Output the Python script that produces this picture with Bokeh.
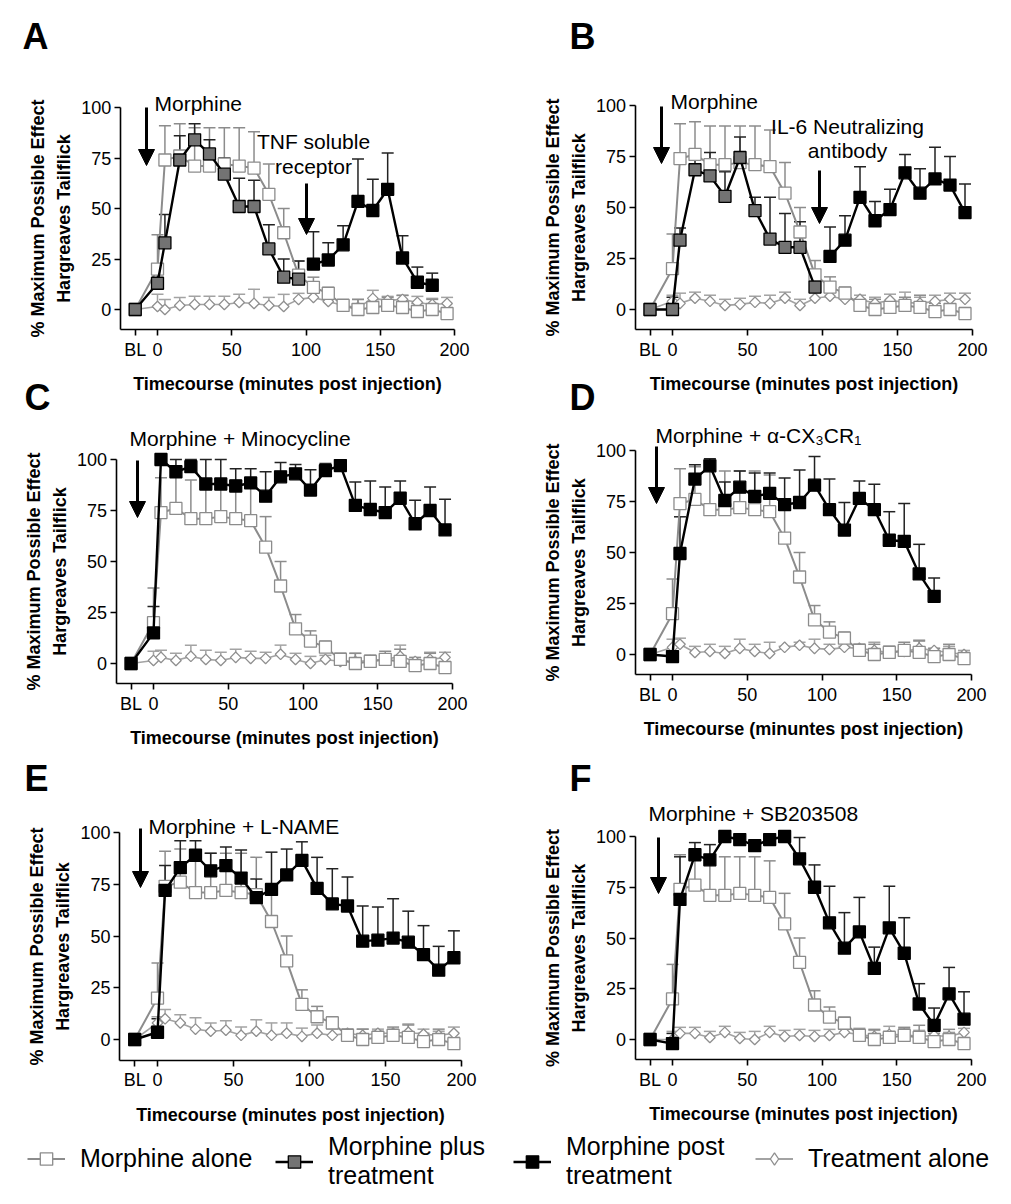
import numpy as np
from bokeh.plotting import figure
from bokeh.models import (ColumnDataSource, Whisker, TeeHead, Label, Arrow, NormalHead,
                          FixedTicker, Range1d, Legend, LegendItem)
from bokeh.layouts import column, row
from bokeh.embed import file_html
from bokeh.resources import INLINE

# ---------------- data ----------------
TIME = [-15, 0, 5, 15, 25, 35, 45, 55, 65, 75, 85, 95, 105, 115, 125, 135, 145, 155, 165, 175, 185, 195]
X_TICKS = [-15, 0, 50, 100, 150, 200]
X_TICK_LABELS = ["BL", "0", "50", "100", "150", "200"]
Y_TICKS = [0, 25, 50, 75, 100]

MORPHINE_ALONE = [0, 20, 74, 76, 71, 71, 72, 71, 70, 57, 38, 17, 11, 8, 2, 0, 1, 2, 1, -1, 0, -2]
MORPHINE_ALONE_SEM = [0, 17, 17, 16, 19, 19, 18, 19, 18, 15, 12, 7, 5, 3, 3, 5, 3, 4, 6, 4, 5, 3]

A_PLUS = [0, 13, 33, 74, 84, 77, 67, 51, 51, 30, 16, 15]
A_PLUS_SEM = [0, 5, 14, 12, 8, 7, 8, 14, 13, 12, 9, 9]
A_POST = [22.5, 24.5, 32, 53.5, 49, 59.5, 25.5, 13.5, 12]
A_POST_SEM = [16, 8.5, 9.5, 21, 15.5, 18, 11, 7.5, 6]
A_TREAT = [0, 1.5, 0, 2, 2.5, 2.5, 2.5, 3.5, 3, 2, 1.5, 5, 6, 4, 2, 1, 5.5, 4.5, 5, 3.5, 2.5, 3]
A_TREAT_SEM = [0, 6, 5, 4, 4, 4, 4, 4, 7, 4, 6, 3, 5, 3, 2, 4, 4, 2, 2, 3, 3, 3]

B_PLUS = [0, 0, 34, 68.5, 65.5, 55.5, 74.5, 48.5, 34.5, 30.5, 30.5, 11]
B_PLUS_SEM = [0, 6, 6, 10, 11.5, 12, 10, 6.5, 20.5, 16.5, 12.5, 6]
B_POST = [26, 34, 55, 43.5, 49, 67, 57, 64, 61, 47.5]
B_POST_SEM = [14.5, 12, 15, 9.5, 10, 9, 12, 15.5, 14, 14]
B_TREAT = [0, 4, 3, 5.5, 4, 2, 2.5, 3.5, 3, 5.5, 2, 5.5, 6.5, 5, 5, 3, 4.5, 3.5, 3, 4, 5, 5]
B_TREAT_SEM = [0, 3, 5, 3, 3, 3, 3, 3, 4, 3, 3, 3, 3, 3, 2, 3, 3, 5, 3, 3, 3, 3]

C_POST = [0, 15, 100, 94, 96.5, 88, 88, 87, 88.5, 82, 91.5, 93, 85, 94.5, 97, 77.5, 75.5, 74, 81, 68.5, 75, 65.5]
C_POST_SEM = [0, 13, 0, 6, 3.5, 12, 12, 8.5, 7, 12, 7, 4.5, 10, 3.5, 1, 11.5, 14, 12.5, 8.5, 11.5, 11.5, 15]
C_TREAT = [0, 1.5, 3, 1.5, 3.5, 2, 1.5, 3, 2.5, 2.5, 4.5, 2, 0, 2, 1, 1, 1.5, 2, 3.5, 1, 2, 3]
C_TREAT_SEM = [0, 4.5, 3.5, 3.5, 5.5, 4.5, 4, 4, 3.5, 3, 4.5, 3, 3.5, 2, 4, 4, 2.5, 2, 5.5, 1, 3.5, 2.5]

D_POST = [0, -1, 49.5, 86, 92.5, 75.5, 82, 77.5, 79, 73.5, 74.5, 83, 71, 61, 76.5, 71, 56, 55.5, 39.5, 28.5]
D_POST_SEM = [0, 0, 18, 7, 3.5, 9, 8, 11.5, 10, 13, 16, 14, 15, 13.5, 8.5, 12.5, 14, 18.5, 14.5, 9]
D_TREAT = [0, 3.5, 5, 1, 1.5, 0.5, 3, 1.5, 0.5, 3.5, 4.5, 3, 2.5, 3.5, 3, 2, 1, 1.5, 3, 2, 1, 0]
D_TREAT_SEM = [0, 4, 3, 3, 3.5, 3.5, 4.5, 3.5, 5.5, 0.5, 1.5, 4.5, 2.5, 0.5, 2, 4, 3, 2.5, 3.5, 1, 3, 2]

E_POST = [0, 3.5, 72, 83, 89, 81.5, 84, 78, 68.5, 72.5, 79.5, 86.5, 73, 65.5, 64.5, 47.5, 48, 49, 47, 41, 33.5, 39.5]
E_POST_SEM = [0, 6.5, 12, 13, 7, 8.5, 9, 13.5, 9, 18, 12.5, 9, 15, 17, 14, 17, 16, 19, 15, 14, 11.5, 13]
E_TREAT = [0, 8, 10, 8, 5, 4, 4.5, 2, 4, 2, 3, 1.5, 3, 2, 3, 2, 3, 3, 3.5, 2.5, 2, 3]
E_TREAT_SEM = [0, 3, 4.5, 4, 5.5, 4, 4.5, 4, 5.5, 6, 5, 4, 4, 3, 2, 3, 2, 2, 4, 2.5, 2, 3]

F_POST = [0, -2, 69, 91, 88.5, 100, 98.5, 95.5, 98.5, 100, 89, 75, 57.5, 45, 53, 35, 55, 42.5, 17.5, 7, 22.5, 10]
F_POST_SEM = [0, 5, 21, 6, 7.5, 0, 1.5, 2.5, 1.5, 0, 10.5, 11, 18, 17.5, 17, 10.5, 20.5, 17.5, 10, 8.5, 13, 13.5]
F_TREAT = [0, 0, 3, 3, 1, 3.5, 0.5, 0, 3.5, 1.5, 2, 1.5, 2, 3.5, 2.5, 1.5, 2.5, 2.5, 1.5, 2, 1.5, 3.5]
F_TREAT_SEM = [0, 4, 3, 3, 3, 3, 3, 4, 3, 3, 3, 3, 3, 3, 3, 3, 4, 3, 3, 2, 2, 2]

Y_LABEL = "% Maximum Possible Effect\nHargreaves Tailflick"
X_LABEL = "Timecourse (minutes post injection)"
X_LABEL_D = "Timecourse (minuntes post injection)"
LEGEND_LABELS = ["Morphine alone", "Morphine plus\ntreatment", "Morphine post\ntreatment", "Treatment alone"]

# ---------------- styles ----------------
FONT = "Liberation Sans"
GRAY_LINE = "#8c8c8c"
GRAY_FILL = "#737373"
TREAT_LINE = "#a3a3a3"
TREAT_MARK = "#8f8f8f"
XMIN, XMAX, YMIN, YMAX = -25, 200, -10, 100
NAN = float("nan")


def add_series(p, x, y, sem, line_color, line_width, marker, size, fill, mline, err_color, angle=0.0):
    src = ColumnDataSource(dict(x=x, y=y))
    xs = [a for a, s in zip(x, sem) if s > 0]
    ys = [b for b, s in zip(y, sem) if s > 0]
    us = [b + s for b, s in zip(y, sem) if s > 0]
    wsrc = ColumnDataSource(dict(x=xs, y=ys, upper=us))
    p.add_layout(Whisker(source=wsrc, base="x", lower="y", upper="upper",
                         line_color=err_color, line_width=1.5,
                         upper_head=TeeHead(size=12, line_color=err_color, line_width=1.5),
                         lower_head=None))
    p.line("x", "y", source=src, line_color=line_color, line_width=line_width)
    p.scatter("x", "y", source=src, marker=marker, size=size, fill_color=fill,
              line_color=mline, line_width=1.3, angle=angle)


def make_panel(g, xlabel):
    xr = Range1d((g["fx"] - g["x0"]) / g["xppu"], (g["fx"] + g["fw"] - g["x0"]) / g["xppu"])
    yr = Range1d((g["y0"] - g["fy"] - g["fh"]) / g["yppu"], (g["y0"] - g["fy"]) / g["yppu"])
    p = figure(width=g["fw"], height=g["fh"], x_range=xr, y_range=yr, min_border=0,
               output_backend="svg", toolbar_location=None,
               x_axis_label=xlabel, y_axis_label=Y_LABEL)
    p.grid.visible = False
    p.outline_line_color = None
    p.background_fill_color = "white"
    p.xaxis.fixed_location = YMIN
    p.yaxis.fixed_location = XMIN
    p.xaxis.bounds = (XMIN, XMAX)
    p.yaxis.bounds = (YMIN, YMAX)
    p.xaxis.ticker = FixedTicker(ticks=X_TICKS)
    p.xaxis.major_label_overrides = {t: l for t, l in zip(X_TICKS, X_TICK_LABELS)}
    p.yaxis.ticker = FixedTicker(ticks=Y_TICKS)
    for ax in (p.xaxis[0], p.yaxis[0]):
        ax.axis_line_width = 1.6
        ax.axis_line_color = "black"
        ax.major_tick_line_width = 1.6
        ax.major_tick_out = 6
        ax.major_tick_in = 0
        ax.minor_tick_out = 0
        ax.minor_tick_in = 0
        ax.major_label_text_font = FONT
        ax.major_label_text_font_size = "18px"
        ax.major_label_text_color = "black"
        ax.axis_label_text_font = FONT
        ax.axis_label_text_font_style = "bold"
        ax.axis_label_text_font_size = "18px"
        ax.axis_label_text_color = "black"
    p.xaxis.major_label_standoff = 4
    p.xaxis.axis_label_standoff = 11
    p.yaxis.major_label_standoff = 3
    p.yaxis.axis_label_standoff = 4
    p.yaxis.axis_label_text_line_height = 1.3
    return p


def pd(g, px, py):
    return (px - g["x0"]) / g["xppu"], (g["y0"] - py) / g["yppu"]


def label(p, g, px, py, text, size=21, align="left", bold=False, baseline="alphabetic"):
    # py is the wanted baseline; compensate for the renderer's baseline offset
    shift = 0.33 * size if baseline == "alphabetic" else 0
    x, y = pd(g, px, py - shift)
    p.add_layout(Label(x=x, y=y, text=text, text_font=FONT, text_font_size=f"{size}px",
                       text_align=align, text_baseline=baseline, text_color="black",
                       text_font_style="bold" if bold else "normal"))


def arrow(p, g, px, py0, py1):
    x0, y0 = pd(g, px, py0)
    x1, y1 = pd(g, px, py1)
    p.add_layout(Arrow(x_start=x0, y_start=y0, x_end=x1, y_end=y1, line_width=3, line_color="black",
                       end=NormalHead(size=16, fill_color="black", line_color="black", line_width=1)))


def draw_common(p, treat, treat_sem):
    add_series(p, TIME, treat, treat_sem, TREAT_LINE, 1.6, "square", 7.5, "white", TREAT_MARK,
               TREAT_LINE, angle=np.pi / 4)
    add_series(p, TIME, MORPHINE_ALONE, MORPHINE_ALONE_SEM, GRAY_LINE, 2.0, "square", 12, "white",
               GRAY_LINE, GRAY_LINE)


def draw_plus(p, x, y, sem):
    add_series(p, x, y, sem, "black", 2.4, "square", 12, GRAY_FILL, "black", "#222222")


def draw_post(p, x, y, sem):
    add_series(p, x, y, sem, "black", 2.4, "square", 12, "black", "black", "#222222")


# ---------------- geometry (page pixels) ----------------
GA = dict(fx=0, fy=0, fw=500, fh=418, x0=157, xppu=1.485, y0=309, yppu=2.02)
GB = dict(fx=500, fy=0, fw=511, fh=418, x0=672, xppu=1.5, y0=309, yppu=2.04)
GC = dict(fx=0, fy=418, fw=500, fh=332, x0=153, xppu=1.495, y0=663, yppu=2.04)
GD = dict(fx=500, fy=418, fw=511, fh=332, x0=672, xppu=1.495, y0=654, yppu=2.04)
GE = dict(fx=0, fy=750, fw=500, fh=378, x0=157, xppu=1.52, y0=1039, yppu=2.07)
GF = dict(fx=500, fy=750, fw=511, fh=378, x0=672, xppu=1.495, y0=1039, yppu=2.03)

# Panel A
pA = make_panel(GA, X_LABEL)
draw_common(pA, A_TREAT, A_TREAT_SEM)
draw_plus(pA, TIME[:12], A_PLUS, A_PLUS_SEM)
draw_post(pA, TIME[12:21], A_POST, A_POST_SEM)
label(pA, GA, 154, 110, "Morphine")
arrow(pA, GA, 146, 107, 165)
label(pA, GA, 313, 148, "TNF soluble", align="center")
label(pA, GA, 313, 173, "receptor", align="center")
arrow(pA, GA, 306, 183, 234)
label(pA, GA, 22, 48, "A", size=36, bold=True)
label(pA, GA, 24, 417, "C", size=36, bold=True, baseline="bottom")

# Panel B
pB = make_panel(GB, X_LABEL)
draw_common(pB, B_TREAT, B_TREAT_SEM)
draw_plus(pB, TIME[:12], B_PLUS, B_PLUS_SEM)
draw_post(pB, TIME[12:], B_POST, B_POST_SEM)
label(pB, GB, 670, 108, "Morphine")
arrow(pB, GB, 661, 106, 163)
label(pB, GB, 847, 133, "IL-6 Neutralizing", align="center")
label(pB, GB, 847, 157, "antibody", align="center")
arrow(pB, GB, 819, 170, 223)
label(pB, GB, 569, 48, "B", size=36, bold=True)
label(pB, GB, 569, 417, "D", size=36, bold=True, baseline="bottom")

# Panel C
pC = make_panel(GC, X_LABEL)
draw_common(pC, C_TREAT, C_TREAT_SEM)
draw_post(pC, TIME, C_POST, C_POST_SEM)
label(pC, GC, 129, 445, "Morphine + Minocycline")
arrow(pC, GC, 137, 460, 517)

# Panel D
pD = make_panel(GD, X_LABEL_D)
draw_common(pD, D_TREAT, D_TREAT_SEM)
draw_post(pD, TIME[:20], D_POST, D_POST_SEM)
label(pD, GD, 655, 442, "Morphine + \u03b1-CX\u2083CR\u2081")
arrow(pD, GD, 656, 446, 503)

# Panel E
pE = make_panel(GE, X_LABEL)
draw_common(pE, E_TREAT, E_TREAT_SEM)
draw_post(pE, TIME, E_POST, E_POST_SEM)
label(pE, GE, 148, 833, "Morphine + L-NAME")
arrow(pE, GE, 140, 828, 887)
label(pE, GE, 24, 790, "E", size=36, bold=True)

# Panel F
pF = make_panel(GF, X_LABEL)
draw_common(pF, F_TREAT, F_TREAT_SEM)
draw_post(pF, TIME, F_POST, F_POST_SEM)
label(pF, GF, 648, 820, "Morphine + SB203508")
arrow(pF, GF, 658, 837, 893)
label(pF, GF, 569, 790, "F", size=36, bold=True)

# ---------------- legend ----------------
LEG_H = 70
lf = figure(width=1011, height=LEG_H, x_range=Range1d(0, 1), y_range=Range1d(0, 1),
            min_border=0, output_backend="svg", toolbar_location=None,
            x_axis_location=None, y_axis_location=None)
lf.grid.visible = False
lf.outline_line_color = None

leg_styles = [
    dict(lc=GRAY_LINE, lw=2.0, marker="square", size=12, fill="white", ml=GRAY_LINE),
    dict(lc="black", lw=2.4, marker="square", size=12, fill=GRAY_FILL, ml="black"),
    dict(lc="black", lw=2.4, marker="square", size=12, fill="black", ml="black"),
    dict(lc=TREAT_LINE, lw=2.0, marker="diamond", size=15, fill="white", ml=TREAT_MARK),
]
leg_x = [27, 275, 513, 755]
for lab, st, lx in zip(LEGEND_LABELS, leg_styles, leg_x):
    r1 = lf.line(x=[NAN], y=[NAN], line_color=st["lc"], line_width=st["lw"])
    r2 = lf.scatter(x=[NAN], y=[NAN], marker=st["marker"], size=st["size"], fill_color=st["fill"],
                    line_color=st["ml"], line_width=1.3)
    two = "\n" in lab
    leg = Legend(items=[LegendItem(label=lab, renderers=[r1, r2])], location=(lx, 8 if two else 24),
                 orientation="horizontal", glyph_width=38, glyph_height=31, label_standoff=15,
                 padding=0, margin=0, border_line_color=None, background_fill_alpha=0,
                 label_text_font=FONT, label_text_font_size="25px", label_text_line_height=1.05,
                 label_text_color="black")
    lf.add_layout(leg)

layout = column(row(pA, pB), row(pC, pD), row(pE, pF), lf)
open("out.html", "w").write(file_html(layout, INLINE))
